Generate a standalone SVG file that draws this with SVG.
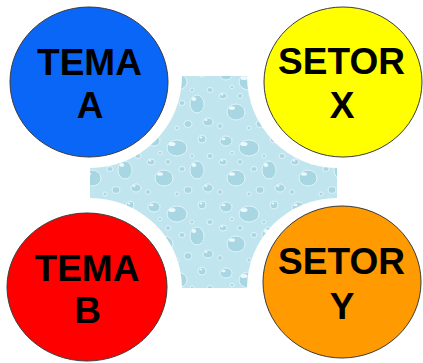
<svg xmlns="http://www.w3.org/2000/svg" width="423" height="363" viewBox="0 0 423 363">
  <style>
    .node { stroke: #3a3a3a; stroke-width: 1; }
    .lbl { font-family: "Liberation Sans", Arial, sans-serif; font-weight: bold; font-size: 37px; fill: #000; text-anchor: middle; }
  </style>
  <defs>
    <pattern id="drops" width="72" height="66" patternUnits="userSpaceOnUse">
      <rect width="72" height="66" fill="#c1e5ee"/>
      <g fill="#a8d6e3" stroke="#e4f6fa" stroke-width="0.9">
        <ellipse cx="10" cy="9" rx="6" ry="5"/>
        <ellipse cx="33" cy="16" rx="10" ry="8"/>
        <ellipse cx="58" cy="7" rx="4" ry="4"/>
        <ellipse cx="66" cy="24" rx="3" ry="2.5"/>
        <ellipse cx="7" cy="30" rx="4" ry="3"/>
        <ellipse cx="20" cy="46" rx="9" ry="8"/>
        <ellipse cx="53" cy="38" rx="7" ry="9"/>
        <ellipse cx="44" cy="58" rx="4" ry="3.5"/>
        <ellipse cx="64" cy="56" rx="5" ry="4"/>
        <ellipse cx="4" cy="60" rx="2.5" ry="2.5"/>
        <ellipse cx="24" cy="30" rx="2.5" ry="2.5"/>
        <ellipse cx="38" cy="37" rx="3" ry="2.5"/>
        <ellipse cx="48" cy="24" rx="2" ry="2"/>
        <ellipse cx="33" cy="62" rx="2" ry="2"/>
        <ellipse cx="16" cy="21" rx="2" ry="1.8"/>
      </g>
      <g fill="#f4fcfe" opacity="0.9">
        <ellipse cx="7.5" cy="7" rx="2" ry="1.2"/>
        <ellipse cx="28" cy="12" rx="3.5" ry="2"/>
        <ellipse cx="16" cy="42" rx="3" ry="1.8"/>
        <ellipse cx="50" cy="33" rx="2.2" ry="2"/>
        <ellipse cx="57" cy="5.5" rx="1.4" ry="1"/>
        <ellipse cx="62" cy="54" rx="1.6" ry="1.1"/>
        <ellipse cx="6" cy="28.5" rx="1.3" ry="0.9"/>
      </g>
      <g fill="#8dc3d3" opacity="0.7">
        <path d="M38,22 a10,8 0 0 0 4,-6 a9,8 0 0 1 -4,6 Z"/>
        <path d="M25,52 a9,8 0 0 0 3,-6 a8,7 0 0 1 -3,6 Z"/>
        <path d="M57,45 a7,9 0 0 0 3,-7 a6,8 0 0 1 -3,7 Z"/>
      </g>
    </pattern>
  </defs>

  <g id="center">
    <path d="M182,76 L247,76 A90,92 0 0 0 337,168 L337,198 A90,90 0 0 0 247,288 L182,288 A92,90 0 0 0 90,198 L90,168 A92,92 0 0 0 182,76 Z" fill="url(#drops)"/>
  </g>

  <g id="connectors"></g>

  <g id="tema-a">
    <ellipse class="node" cx="89" cy="82" rx="79" ry="75" fill="#0966f7"/>
    <text class="lbl" x="89.5" y="75">TEMA</text>
    <text class="lbl" x="90" y="118">A</text>
  </g>

  <g id="setor-x">
    <ellipse class="node" cx="343" cy="82" rx="79" ry="75" fill="#ffff00"/>
    <text class="lbl" x="341.5" y="74">SETOR</text>
    <text class="lbl" x="342" y="118">X</text>
  </g>

  <g id="tema-b">
    <ellipse class="node" cx="87" cy="287" rx="80" ry="74" fill="#ff0000"/>
    <text class="lbl" x="87" y="281">TEMA</text>
    <text class="lbl" x="87.5" y="323">B</text>
  </g>

  <g id="setor-y">
    <ellipse class="node" cx="342" cy="282" rx="79" ry="76" fill="#ff9a00"/>
    <text class="lbl" x="341.5" y="274">SETOR</text>
    <text class="lbl" x="342" y="319">Y</text>
  </g>
</svg>
